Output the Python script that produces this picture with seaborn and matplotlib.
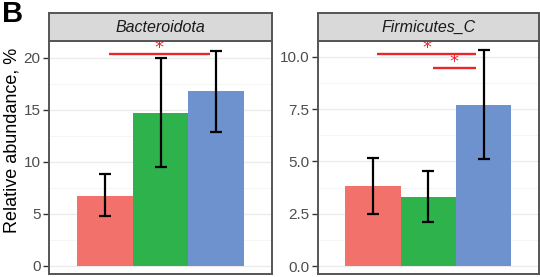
import matplotlib
matplotlib.use("Agg")
import matplotlib.pyplot as plt
import seaborn as sns
import pandas as pd
import numpy as np
from matplotlib.ticker import MultipleLocator

sns.set_theme(style="white")
plt.rcParams['font.family'] = ['Liberation Sans', 'DejaVu Sans']

groups = ["G1", "G2", "G3"]
colors = ["#F2716A", "#2EB24B", "#6D92CD"]

taxa = ["Bacteroidota", "Firmicutes_C"]
bact_mean = [6.75, 14.75, 16.85]
bact_low = [4.8, 9.5, 12.9]
bact_high = [8.85, 20.0, 20.7]
firm_mean = [3.8, 3.3, 7.7]
firm_low = [2.5, 2.1, 5.1]
firm_high = [5.15, 4.55, 10.3]

bact_sig = [(0.08, 1.88, 20.35)]
firm_sig = [(0.08, 1.86, 10.12), (1.08, 1.86, 9.45)]

bact_ticks = [0, 5, 10, 15, 20]
firm_ticks = [0.0, 2.5, 5.0, 7.5, 10.0]
bact_labels = ["0", "5", "10", "15", "20"]
firm_labels = ["0.0", "2.5", "5.0", "7.5", "10.0"]

W, H = 540, 277
fig = plt.figure(figsize=(W / 100, H / 100), dpi=100)
fig.patch.set_facecolor("white")

def px_axes(x0, y0, x1, y1):
    return fig.add_axes([x0 / W, 1 - y1 / H, (x1 - x0) / W, (y1 - y0) / H])

panels = [
    dict(name=taxa[0], mean=bact_mean, low=bact_low, high=bact_high, sig=bact_sig,
         ticks=bact_ticks, labels=bact_labels, ylim=(-0.77, 21.63), box=(49, 41, 272, 274)),
    dict(name=taxa[1], mean=firm_mean, low=firm_low, high=firm_high, sig=firm_sig,
         ticks=firm_ticks, labels=firm_labels, ylim=(-0.38, 10.75), box=(317.7, 41, 539, 274)),
]

border = "#555555"
sig_red = "#E8262B"
for i, p in enumerate(panels):
    x0, y0, x1, y1 = p["box"]
    ax = px_axes(x0, y0, x1, y1)
    df = pd.DataFrame({"group": groups, "value": p["mean"]})
    ax.set_axisbelow(True)
    sns.barplot(data=df, x="group", y="value", hue="group", palette=colors,
                width=1.0, dodge=False, errorbar=None, legend=False, ax=ax,
                saturation=1.0, linewidth=0)
    mean = np.array(p["mean"])
    yerr = np.vstack([mean - np.array(p["low"]), np.array(p["high"]) - mean])
    ax.errorbar(np.arange(len(groups)), mean, yerr=yerr, fmt="none", ecolor="black",
                elinewidth=1.6, capsize=4, capthick=1.6, zorder=5)
    for (a, b, y) in p["sig"]:
        ax.plot([a, b], [y, y], color=sig_red, lw=1.7, zorder=6, solid_capstyle="butt")
        ax.annotate("*", xy=((a + b) / 2, y), xytext=(0, 4.5), textcoords="offset points",
                    color=sig_red, ha="center", va="center", fontsize=13,
                    family="DejaVu Sans", zorder=6)
    ax.set_xlim(-1.0, 3.0)
    ax.set_ylim(*p["ylim"])
    ax.set_yticks(p["ticks"])
    ax.set_yticklabels(p["labels"])
    step = p["ticks"][1] - p["ticks"][0]
    ax.yaxis.set_minor_locator(MultipleLocator(step / 2))
    ax.grid(axis="y", which="major", color="#EBEBEB", lw=1.0)
    ax.grid(axis="y", which="minor", color="#F4F4F4", lw=0.6)
    ax.set_xticks([])
    ax.set_xlabel("")
    ax.set_ylabel("")
    ax.tick_params(axis="y", which="major", left=True, length=4, width=1.0,
                   color="#333333", labelcolor="#4D4D4D", labelsize=11, pad=2)
    ax.tick_params(axis="y", which="minor", left=False)
    for s in ax.spines.values():
        s.set_color(border)
        s.set_linewidth(1.4)
    ax.set_facecolor("white")

    sax = px_axes(x0, 13, x1, 41)
    sax.set_facecolor("#D9D9D9")
    sax.set_xticks([])
    sax.set_yticks([])
    for s in sax.spines.values():
        s.set_color(border)
        s.set_linewidth(1.4)
    sax.text(0.5, 0.5, p["name"], ha="center", va="center", fontsize=11.5,
             style="italic", color="#1A1A1A", transform=sax.transAxes)

fig.text(12 / W, 1 - 140 / H, "Relative abundance, %", rotation=90, ha="center",
         va="center", fontsize=13, color="black")
fig.text(2 / W, 1 - 0 / H, "B", ha="left", va="top", fontsize=21, fontweight="bold",
         color="black")

fig.savefig("out.png", dpi=100, facecolor="white")
